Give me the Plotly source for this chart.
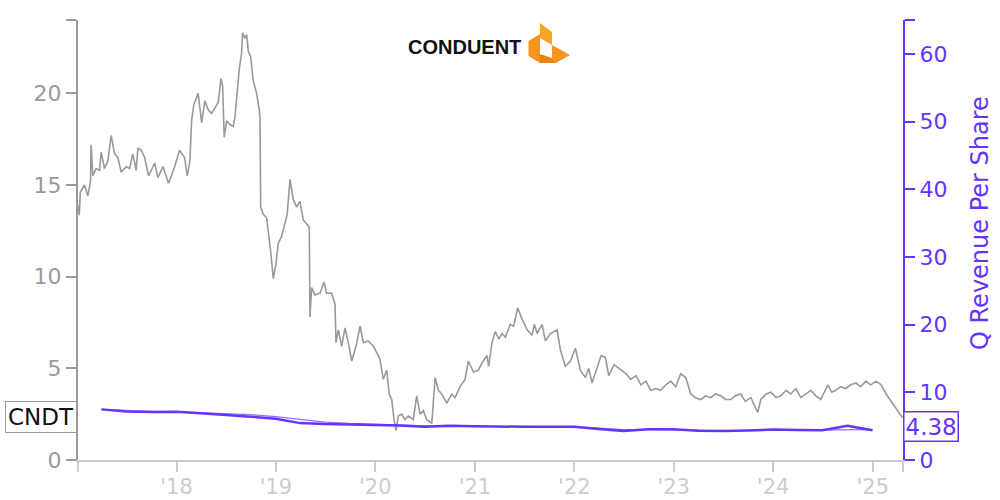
import plotly.graph_objects as go
import pandas as pd

# ---------------- data ----------------
price_year = [
    2017.010, 2017.021, 2017.031, 2017.074, 2017.107, 2017.134, 2017.140, 2017.157, 2017.190, 2017.225,
    2017.241, 2017.275, 2017.308, 2017.342, 2017.376, 2017.409, 2017.442, 2017.493, 2017.527, 2017.560,
    2017.593, 2017.610, 2017.644, 2017.678, 2017.718, 2017.779, 2017.812, 2017.862, 2017.919, 2017.980,
    2018.030, 2018.081, 2018.107, 2018.134, 2018.151, 2018.174, 2018.217, 2018.252, 2018.285, 2018.318,
    2018.352, 2018.386, 2018.419, 2018.446, 2018.463, 2018.479, 2018.503, 2018.537, 2018.570, 2018.587,
    2018.604, 2018.630, 2018.654, 2018.664, 2018.688, 2018.705, 2018.721, 2018.745, 2018.771, 2018.805,
    2018.832, 2018.839, 2018.846, 2018.872, 2018.906, 2018.922, 2018.946, 2018.973, 2019.000, 2019.023,
    2019.057, 2019.090, 2019.113, 2019.141, 2019.174, 2019.208, 2019.241, 2019.275, 2019.309, 2019.335,
    2019.342, 2019.359, 2019.392, 2019.443, 2019.483, 2019.510, 2019.560, 2019.594, 2019.604, 2019.627,
    2019.661, 2019.694, 2019.728, 2019.762, 2019.805, 2019.846, 2019.879, 2019.929, 2019.980, 2020.014,
    2020.047, 2020.080, 2020.114, 2020.140, 2020.165, 2020.188, 2020.208, 2020.231, 2020.265, 2020.298,
    2020.332, 2020.382, 2020.416, 2020.450, 2020.483, 2020.517, 2020.568, 2020.601, 2020.634, 2020.668,
    2020.718, 2020.769, 2020.802, 2020.852, 2020.902, 2020.936, 2020.986, 2021.036, 2021.070, 2021.121,
    2021.137, 2021.171, 2021.204, 2021.238, 2021.272, 2021.305, 2021.355, 2021.389, 2021.429, 2021.473,
    2021.524, 2021.574, 2021.597, 2021.624, 2021.675, 2021.708, 2021.758, 2021.826, 2021.859, 2021.909,
    2021.960, 2022.010, 2022.060, 2022.111, 2022.144, 2022.178, 2022.229, 2022.269, 2022.312, 2022.345,
    2022.400, 2022.466, 2022.520, 2022.567, 2022.620, 2022.668, 2022.720, 2022.768, 2022.820, 2022.869,
    2022.920, 2022.970, 2023.020, 2023.070, 2023.121, 2023.171, 2023.220, 2023.272, 2023.320, 2023.372,
    2023.420, 2023.473, 2023.520, 2023.574, 2023.620, 2023.674, 2023.720, 2023.775, 2023.845, 2023.875,
    2023.930, 2023.976, 2024.030, 2024.077, 2024.130, 2024.177, 2024.230, 2024.278, 2024.330, 2024.379,
    2024.430, 2024.479, 2024.550, 2024.590, 2024.630, 2024.680, 2024.731, 2024.780, 2024.832, 2024.880,
    2024.933, 2024.980, 2025.034, 2025.084, 2025.134, 2025.185, 2025.235, 2025.300,
]
price_value = [
    13.9, 13.35, 14.6, 15.0, 14.4, 15.2, 17.2, 15.5, 15.9, 15.8,
    16.8, 15.9, 16.3, 17.7, 16.7, 16.5, 15.7, 16.0, 15.9, 16.7,
    15.8, 17.0, 16.9, 16.5, 15.5, 16.2, 15.4, 16.0, 15.1, 16.0,
    16.9, 16.5, 15.5, 16.3, 18.5, 19.4, 20.0, 18.4, 19.6, 19.1,
    18.9, 19.2, 19.5, 20.8, 20.4, 17.6, 18.5, 18.3, 18.2, 18.7,
    19.8, 21.3, 22.2, 23.3, 23.0, 23.2, 22.3, 22.0, 20.7, 20.0,
    19.1, 18.7, 13.8, 13.4, 13.2, 12.5, 11.4, 9.9, 10.7, 11.8,
    12.2, 12.9, 13.4, 15.3, 14.2, 13.8, 14.1, 13.1, 12.9, 12.7,
    7.8, 9.4, 9.0, 9.1, 9.7, 9.1, 9.1, 8.5, 6.4, 7.1,
    6.2, 7.2, 6.4, 5.4, 6.2, 7.3, 6.4, 6.5, 6.2, 5.8,
    5.5, 4.4, 4.9, 3.6, 3.3, 2.2, 1.6, 2.4, 2.5, 2.2,
    2.4, 2.2, 3.5, 2.5, 2.7, 2.2, 2.0, 4.5, 3.8, 3.6,
    3.1, 3.6, 3.4, 4.0, 4.4, 5.4, 4.8, 4.9, 5.3, 5.7,
    5.1, 6.4, 7.0, 6.6, 6.9, 6.7, 7.4, 7.3, 8.3, 7.7,
    7.1, 6.8, 7.4, 6.9, 7.4, 6.5, 6.9, 7.1, 6.0, 5.1,
    5.4, 6.1, 4.9, 4.5, 5.0, 4.2, 5.1, 5.7, 5.6, 4.6,
    5.2, 4.9, 4.7, 4.4, 4.6, 4.1, 4.3, 3.8, 3.9, 3.8,
    4.1, 4.3, 4.0, 4.7, 4.5, 3.6, 3.4, 3.3, 3.5, 3.4,
    3.6, 3.5, 3.3, 3.3, 3.5, 3.6, 3.2, 3.4, 2.6, 3.3,
    3.6, 3.7, 3.4, 3.5, 3.8, 3.6, 3.9, 3.4, 3.6, 3.8,
    3.5, 3.3, 4.1, 3.7, 3.8, 4.0, 3.9, 4.1, 4.2, 4.0,
    4.3, 4.1, 4.3, 4.1, 3.6, 3.2, 2.8, 2.3,
]

rev_quarter = [
    "2017-03-31", "2017-06-30", "2017-09-30", "2017-12-31",
    "2018-03-31", "2018-06-30", "2018-09-30", "2018-12-31",
    "2019-03-31", "2019-06-30", "2019-09-30", "2019-12-31",
    "2020-03-31", "2020-06-30", "2020-09-30", "2020-12-31",
    "2021-03-31", "2021-06-30", "2021-09-30", "2021-12-31",
    "2022-03-31", "2022-06-30", "2022-09-30", "2022-12-31",
    "2023-03-31", "2023-06-30", "2023-09-30", "2023-12-31",
    "2024-03-31", "2024-06-30", "2024-09-30", "2024-12-31",
]
rev_value = [
    7.48, 7.15, 7.10, 7.13,
    6.90, 6.70, 6.40, 6.10,
    5.45, 5.30, 5.27, 5.20,
    5.10, 4.90, 5.05, 5.00,
    4.90, 4.90, 4.92, 4.90,
    4.57, 4.30, 4.55, 4.55,
    4.33, 4.28, 4.35, 4.50,
    4.45, 4.38, 5.05, 4.38,
]
rev_trend_value = [
    7.48, 7.30, 7.20, 7.13,
    7.00, 6.90, 6.70, 6.40,
    5.95, 5.60, 5.40, 5.25,
    5.15, 5.05, 5.00, 5.00,
    4.95, 4.92, 4.92, 4.90,
    4.70, 4.50, 4.50, 4.50,
    4.40, 4.35, 4.38, 4.45,
    4.45, 4.45, 4.55, 4.50,
]

year_ticks = ["2018-01-01", "2019-01-01", "2020-01-01", "2021-01-01",
              "2022-01-01", "2023-01-01", "2024-01-01", "2025-01-01"]
year_labels = ["'18", "'19", "'20", "'21", "'22", "'23", "'24", "'25"]
x_start, x_end = "2017-01-04", "2025-04-22"

left_ticks = [0, 5, 10, 15, 20, 24]
left_labels = ["0", "5", "10", "15", "20", ""]
right_ticks = [0, 10, 20, 30, 40, 50, 60, 65]
right_labels = ["0", "10", "20", "30", "40", "50", "60", ""]

ticker = "CNDT"
right_title = "Q Revenue Per Share"
last_rev = 4.38
last_price = 2.32

# ---------------- styles ----------------
PURPLE = "#6633ff"
GREY = "#999999"
LIGHT = "#cccccc"
FONT = "DejaVu Sans"
FS = 22


def yr2date(y):
    yi = int(y)
    return pd.Timestamp(yi, 1, 1) + pd.Timedelta(days=(y - yi) * 365.25)


price_dates = [yr2date(y) for y in price_year]

fig = go.Figure()
fig.add_trace(go.Scatter(x=price_dates, y=price_value, mode="lines",
                         line=dict(color=GREY, width=1.6), yaxis="y", hoverinfo="skip"))
fig.add_trace(go.Scatter(x=rev_quarter, y=rev_trend_value, mode="lines",
                         line=dict(color="#8f70ff", width=1.2), yaxis="y2", hoverinfo="skip"))
fig.add_trace(go.Scatter(x=rev_quarter, y=rev_value, mode="lines",
                         line=dict(color=PURPLE, width=2.5), yaxis="y2", hoverinfo="skip"))

# body margin is removed by post_script; plot area on screen: x 78..903, y 20..460
SL, SR, ST, SB = 78, 903, 20, 460
W, H = 1000, 500
ML, MT = SL, ST
MR, MB = W - SR, H - SB
PW, PH = SR - SL, SB - ST


def px(x, y):
    """screen pixel -> paper coordinate"""
    return (x - SL) / PW, 1 - (y - ST) / PH


def path(pts):
    s = ""
    for i, (x, y) in enumerate(pts):
        X, Y = px(x, y)
        s += ("M" if i == 0 else "L") + f"{X:.5f},{Y:.5f} "
    return s + "Z"


# logo icon (orange folded arrow)
icon = [
    ([(528.5, 41), (540, 34), (540, 63), (528.5, 56)], "#f7941d"),
    ([(540, 23), (552, 32), (552, 45), (540, 38)], "#f5a623"),
    ([(552, 45), (570, 55), (556, 63), (552, 58)], "#f7941d"),
    ([(540, 54), (552, 58), (556, 63), (540, 63)], "#e8850f"),
]
shapes = []
for pts, col in icon:
    shapes.append(dict(type="path", xref="paper", yref="paper", path=path(pts),
                       fillcolor=col, line=dict(width=0), layer="above"))

tx, ty = px(980, 223)
lx, ly = px(464, 47)

fig.update_layout(
    width=W, height=H,
    margin=dict(l=ML, r=MR, t=MT, b=MB, autoexpand=False),
    plot_bgcolor="white", paper_bgcolor="white",
    showlegend=False,
    font=dict(family=FONT, size=FS),
    xaxis=dict(
        range=[x_start, x_end], type="date", automargin=False,
        tickmode="array", tickvals=[x_start] + year_ticks + [x_end],
        ticktext=[""] + year_labels + [""],
        showgrid=False, zeroline=False,
        showline=True, linecolor=LIGHT, linewidth=2,
        ticks="outside", ticklen=10, tickwidth=2, tickcolor=LIGHT,
        ticklabelstandoff=-3,
        tickfont=dict(color=LIGHT, size=21, family=FONT),
    ),
    yaxis=dict(
        range=[0, 24], tickmode="array", tickvals=left_ticks, ticktext=left_labels,
        showgrid=False, zeroline=False, automargin=False,
        showline=True, linecolor=GREY, linewidth=2,
        ticks="outside", ticklen=10, tickwidth=2, tickcolor=GREY,
        tickfont=dict(color=GREY, size=FS, family=FONT),
    ),
    yaxis2=dict(
        range=[0, 65], overlaying="y", side="right", anchor="x", automargin=False,
        tickmode="array", tickvals=right_ticks, ticktext=right_labels,
        showgrid=False, zeroline=False,
        showline=True, linecolor=PURPLE, linewidth=2,
        ticks="outside", ticklen=10, tickwidth=2, tickcolor=PURPLE,
        tickfont=dict(color=PURPLE, size=FS, family=FONT),
    ),
    shapes=shapes,
    annotations=[
        dict(text="CONDUENT", xref="paper", yref="paper", x=lx, y=ly,
             showarrow=False, xanchor="center", yanchor="middle",
             font=dict(family="Liberation Sans", size=20, color="#111111", weight=900)),
        dict(text=right_title, xref="paper", yref="paper", x=tx, y=ty, textangle=-90,
             showarrow=False, xanchor="center", yanchor="middle",
             font=dict(color=PURPLE, size=24, family=FONT)),
        dict(text=ticker, xref="paper", yref="y", x=0, y=last_price, xanchor="right",
             yanchor="middle", showarrow=False, bordercolor=GREY, borderwidth=1,
             borderpad=2, bgcolor="white", xshift=-1,
             font=dict(color="#111111", size=23, family=FONT)),
        dict(text=f"{last_rev:.2f}", xref="paper", yref="y2", x=1, y=last_rev, xanchor="left",
             yanchor="middle", showarrow=False, bordercolor=PURPLE, borderwidth=1.5,
             borderpad=1, bgcolor="white", xshift=0, yshift=4,
             font=dict(color=PURPLE, size=23, family=FONT)),
    ],
)

fig.write_html("out.html", config={"displayModeBar": False},
               post_script="document.body.style.margin='0px';")
